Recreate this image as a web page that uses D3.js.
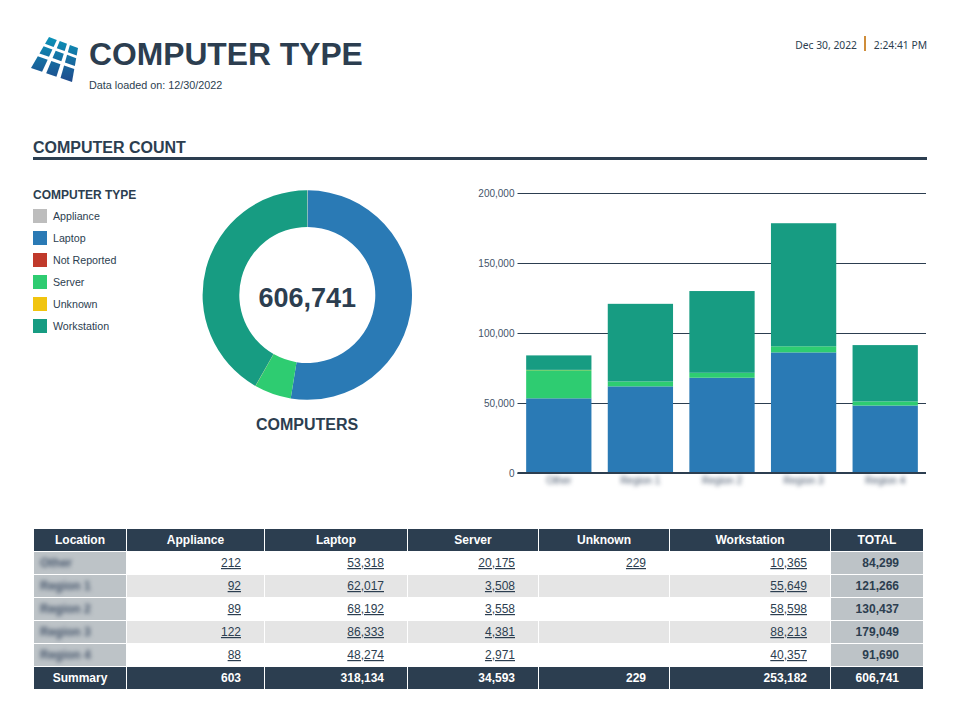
<!DOCTYPE html>
<html>
<head>
<meta charset="utf-8">
<script src="https://cdn.jsdelivr.net/npm/d3@7"></script>
<style>
  body { margin: 0; background: #fff; }
  svg { display: block; }
  text { font-family: "Liberation Sans", Arial, sans-serif; fill: #2c3e50; }
  .blurred { filter: blur(2.2px); }
</style>
</head>
<body>
<div id="chart"></div>
<script>
const locations = ["Other", "Region 1", "Region 2", "Region 3", "Region 4"];
const types = ["Appliance", "Laptop", "Not Reported", "Server", "Unknown", "Workstation"];
const appliance = [212, 92, 89, 122, 88];
const laptop = [53318, 62017, 68192, 86333, 48274];
const notReported = [0, 0, 0, 0, 0];
const server = [20175, 3508, 3558, 4381, 2971];
const unknown = [229, 0, 0, 0, 0];
const workstation = [10365, 55649, 58598, 88213, 40357];
const yTicks = [0, 50000, 100000, 150000, 200000];
const tableColumns = ["Location", "Appliance", "Laptop", "Server", "Unknown", "Workstation", "TOTAL"];

const dark = "#2c3e50";
const typeColors = ["#bdbdbd", "#2a7ab5", "#c0392b", "#2ecc71", "#f1c40f", "#179c82"];
const fmt = d3.format(",");

const series = { "Appliance": appliance, "Laptop": laptop, "Not Reported": notReported, "Server": server, "Unknown": unknown, "Workstation": workstation };
const color = d3.scaleOrdinal().domain(types).range(typeColors);

const rows = locations.map((name, i) => {
  const row = { name };
  types.forEach((t) => (row[t] = series[t][i]));
  row.total = d3.sum(types, (t) => row[t]);
  return row;
});
const grandTotal = d3.sum(rows, (d) => d.total);

const svg = d3.select("#chart").append("svg").attr("width", 960).attr("height", 724);

//////////////////////// Header ////////////////////////

// logo: a skewed 3x3 grid of tiles
const defs = svg.append("defs");
const grad = defs.append("linearGradient").attr("id", "logoGrad").attr("gradientUnits", "userSpaceOnUse")
  .attr("x1", 0).attr("y1", 37).attr("x2", 0).attr("y2", 82);
grad.append("stop").attr("offset", "0%").attr("stop-color", "#0b93b8");
grad.append("stop").attr("offset", "100%").attr("stop-color", "#1f4a8c");

const corners = [[49, 37], [78, 48], [72, 82], [31, 68]];
const bilerp = (u, v) => {
  const top = [corners[0][0] + (corners[1][0] - corners[0][0]) * u, corners[0][1] + (corners[1][1] - corners[0][1]) * u];
  const bot = [corners[3][0] + (corners[2][0] - corners[3][0]) * u, corners[3][1] + (corners[2][1] - corners[3][1]) * u];
  return [top[0] + (bot[0] - top[0]) * v, top[1] + (bot[1] - top[1]) * v];
};
const logoCols = [[0, 0.27], [0.37, 0.62], [0.72, 1]];
const logoRows = [[0, 0.22], [0.3, 0.53], [0.62, 1]];
logoRows.forEach((r) => logoCols.forEach((c) => {
  svg.append("polygon")
    .attr("points", [bilerp(c[0], r[0]), bilerp(c[1], r[0]), bilerp(c[1], r[1]), bilerp(c[0], r[1])].join(" "))
    .attr("fill", "url(#logoGrad)");
}));

svg.append("text").attr("x", 89).attr("y", 65).attr("font-size", 31.8).attr("font-weight", "bold").text("COMPUTER TYPE");
svg.append("text").attr("x", 89).attr("y", 89).attr("font-size", 10.8).text("Data loaded on: 12/30/2022");

svg.append("text").attr("x", 857).attr("y", 49).attr("text-anchor", "end").attr("font-size", 10.3)
  .style("font-family", "'Noto Sans'").text("Dec 30, 2022");
svg.append("rect").attr("x", 864).attr("y", 36).attr("width", 2).attr("height", 15).attr("fill", "#cf8d3a");
svg.append("text").attr("x", 927).attr("y", 49).attr("text-anchor", "end").attr("font-size", 10.3)
  .style("font-family", "'Noto Sans'").text("2:24:41 PM");

svg.append("text").attr("x", 33).attr("y", 153).attr("font-size", 16).attr("font-weight", "bold").text("COMPUTER COUNT");
svg.append("rect").attr("x", 33).attr("y", 157).attr("width", 894).attr("height", 3).attr("fill", dark);

//////////////////////// Legend ////////////////////////

svg.append("text").attr("x", 33).attr("y", 199).attr("font-size", 12).attr("font-weight", "bold").text("COMPUTER TYPE");
const legend = svg.selectAll(".legendItem").data(types).enter().append("g")
  .attr("class", "legendItem")
  .attr("transform", (d, i) => "translate(33," + (209 + i * 22) + ")");
legend.append("rect").attr("width", 14).attr("height", 14).attr("fill", (d) => color(d));
legend.append("text").attr("x", 20).attr("y", 11).attr("font-size", 10.67).text((d) => d);

//////////////////////// Donut ////////////////////////

const pie = d3.pie().sort(null).value((d) => d3.sum(series[d]));
const arc = d3.arc().innerRadius(68).outerRadius(104.7);
const donut = svg.append("g").attr("transform", "translate(307.3,295)");
donut.selectAll("path").data(pie(types)).enter().append("path")
  .attr("d", arc).attr("fill", (d) => color(d.data));
donut.append("text").attr("y", 12).attr("text-anchor", "middle").attr("font-size", 27).attr("font-weight", "bold").text(fmt(grandTotal));
svg.append("text").attr("x", 307).attr("y", 429.5).attr("text-anchor", "middle").attr("font-size", 16).attr("font-weight", "bold").text("COMPUTERS");

//////////////////////// Stacked bars ////////////////////////

const x = d3.scaleBand().domain(locations).range([518, 926]).paddingInner(0.2).paddingOuter(0.1);
// the gridlines sit on whole pixels, the bars come out a touch shorter
const yGrid = d3.scaleLinear().domain([0, 200000]).range([473, 193]);
const y = d3.scaleLinear().domain([0, 200000]).range([473, 194]);

const yAxis = svg.append("g").attr("transform", "translate(517.5,0)")
  .call(d3.axisLeft(yGrid).tickValues(yTicks).tickFormat(fmt).tickSize(-408.5).tickPadding(3));
yAxis.select(".domain").remove();
yAxis.selectAll("line").attr("stroke", dark).attr("stroke-width", 1);
yAxis.selectAll("text").attr("font-size", 10).style("font-family", "'Liberation Sans'").style("fill", "#44546a");

const stacked = d3.stack().keys(types)(rows);
svg.selectAll(".layer").data(stacked).enter().append("g")
  .attr("class", "layer").attr("fill", (d) => color(d.key))
  .selectAll("rect").data((d) => d).enter().append("rect")
  .attr("x", (d) => x(d.data.name))
  .attr("y", (d) => y(d[1]))
  .attr("width", x.bandwidth())
  .attr("height", (d) => y(d[0]) - y(d[1]));

const xAxis = svg.append("g").attr("transform", "translate(0,473)")
  .call(d3.axisBottom(x).tickSize(0).tickPadding(4));
xAxis.select(".domain").remove();
xAxis.selectAll("text").attr("class", "blurred").attr("font-size", 10).style("font-family", "'Liberation Sans'").style("fill", "#44546a");
svg.append("line").attr("x1", 517.5).attr("x2", 926).attr("y1", 473).attr("y2", 473).attr("stroke", dark).attr("stroke-width", 2);

//////////////////////// Table ////////////////////////

const colLeft = [34, 127, 265, 408, 539, 670, 831];
const colRight = [126, 264, 407, 538, 669, 830, 923];
const rowTop = d3.scaleLinear().domain([0, 1]).range([529, 552]);
const rowHeight = 22;
const cellPad = 23;
const table = svg.append("g");

const drawCell = (col, row, fill) => table.append("rect")
  .attr("x", colLeft[col]).attr("y", rowTop(row))
  .attr("width", colRight[col] - colLeft[col]).attr("height", rowHeight).attr("fill", fill);

// header
tableColumns.forEach((name, c) => {
  drawCell(c, 0, dark);
  table.append("text").attr("x", (colLeft[c] + colRight[c]) / 2).attr("y", rowTop(0) + 15)
    .attr("text-anchor", "middle").attr("font-size", 12).attr("font-weight", "bold")
    .style("fill", "#fff").text(name);
});

// body
rows.forEach((d, i) => {
  const r = i + 1;
  const stripe = i % 2 === 1 ? "#e5e5e5" : "#fff";
  drawCell(0, r, "#bdc3c7");
  table.append("text").attr("class", "blurred").attr("x", 40).attr("y", rowTop(r) + 15)
    .attr("font-size", 12).attr("font-weight", "bold").style("fill", "#44546a").text(d.name);
  tableColumns.slice(1, 6).forEach((name, k) => {
    const c = k + 1;
    drawCell(c, r, stripe);
    if (d[name]) {
      table.append("text").attr("x", colRight[c] - cellPad).attr("y", rowTop(r) + 15)
        .attr("text-anchor", "end").attr("font-size", 12)
        .style("text-decoration", "underline").text(fmt(d[name]));
    }
  });
  drawCell(6, r, "#bdc3c7");
  table.append("text").attr("x", colRight[6] - 24).attr("y", rowTop(r) + 15)
    .attr("text-anchor", "end").attr("font-size", 12).attr("font-weight", "bold").text(fmt(d.total));
});

// summary row
const summaryRow = rows.length + 1;
tableColumns.forEach((name, c) => {
  drawCell(c, summaryRow, dark);
  const label = c === 0 ? "Summary" : c === 6 ? fmt(grandTotal) : fmt(d3.sum(series[name]));
  table.append("text")
    .attr("x", c === 0 ? (colLeft[0] + colRight[0]) / 2 : colRight[c] - (c === 6 ? 24 : cellPad))
    .attr("y", rowTop(summaryRow) + 15)
    .attr("text-anchor", c === 0 ? "middle" : "end").attr("font-size", 12).attr("font-weight", "bold")
    .style("fill", "#fff").text(label);
});
</script>
</body>
</html>
